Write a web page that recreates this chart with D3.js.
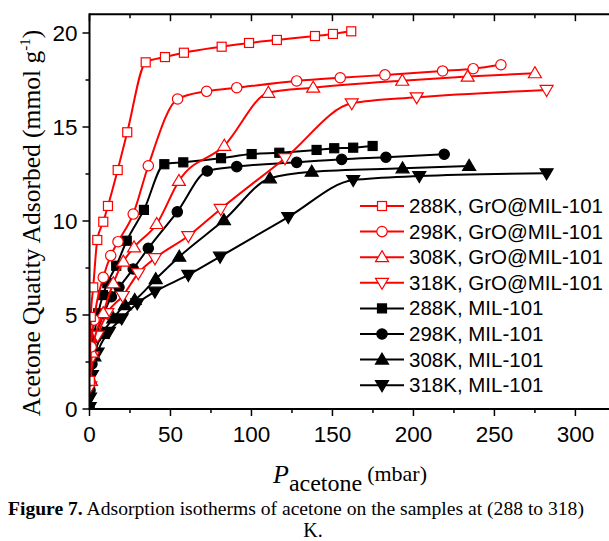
<!DOCTYPE html>
<html>
<head>
<meta charset="utf-8">
<script src="https://cdn.jsdelivr.net/npm/d3@7"></script>
<style>
  body { margin: 0; background: #fff; }
  svg { display: block; }
</style>
</head>
<body>
<svg width="609" height="541"></svg>
<script>
// pressure (mbar) / amount adsorbed (mmol/g)
const gro288 = [[0.2,1.5],[0.8,4.9],[2.3,6.47],[4.8,8.99],[8.5,9.96],[11.4,10.8],[17.4,12.71],[23.3,14.72],[34.7,18.44],[46.6,18.72],[58.3,18.95],[81.6,19.27],[98.5,19.47],[115.7,19.63],[139.2,19.84],[150.3,19.95],[161.6,20.09]];
const gro298 = [[0.3,1.5],[1.0,3.3],[2.8,4.73],[8.5,7.0],[13.1,8.16],[17.6,8.9],[27.0,10.37],[36.3,12.94],[54.4,16.49],[72.3,16.9],[90.9,17.09],[127.9,17.45],[154.8,17.62],[182.4,17.77],[218.0,17.98],[236.9,18.1],[254.0,18.31]];
const gro308 = [[0.5,1.5],[1.5,3.0],[8.5,5.1],[14.7,6.69],[20.9,7.84],[27.5,8.6],[41.5,9.84],[55.2,12.13],[83.2,14.0],[110.4,16.82],[138.1,17.09],[193.1,17.46],[233.5,17.68],[275.0,17.86]];
const gro318 = [[0.5,1.2],[2,2.8],[5,3.9],[11,5.1],[20.5,6.01],[30.1,7.22],[40.4,8.02],[61.0,9.2],[81.0,10.64],[120.7,13.34],[161.9,16.26],[202.0,16.58],[282.2,16.97]];
const mil288 = [[0.1,0.1],[0.3,1.0],[1,2.5],[3,4.0],[5.4,5.09],[8.3,6.06],[11.0,6.69],[16.5,7.62],[23.0,8.95],[33.6,10.59],[46.2,13.02],[57.9,13.12],[81.2,13.34],[100.1,13.56],[117.2,13.63],[140.2,13.78],[151.1,13.87],[162.8,13.9],[174.8,13.99]];
const mil298 = [[0.3,1.0],[1.5,2.4],[4,3.8],[9.0,5.09],[13.5,5.97],[18.2,6.47],[27.0,7.45],[36.3,8.55],[54.2,10.49],[72.7,12.66],[90.9,12.89],[127.9,13.12],[155.7,13.28],[183.0,13.39],[219.0,13.55]];
const mil308 = [[0.8,1.5],[3,2.8],[8,4.0],[14.7,4.82],[21.9,5.53],[27.9,5.8],[40.9,6.91],[55.4,8.1],[83.0,10.05],[111.4,12.27],[137.2,12.62],[193.3,12.8],[234.4,12.93]];
const mil318 = [[0.1,0.1],[0.3,0.6],[1.5,1.8],[5,3.0],[12,4.1],[19.9,4.82],[29.5,5.62],[40.4,6.24],[61.0,7.13],[80.6,8.1],[122.7,10.21],[162.8,12.18],[203.6,12.39],[282.2,12.54]];

const seriesNames = ["288K, GrO@MIL-101", "298K, GrO@MIL-101", "308K, GrO@MIL-101", "318K, GrO@MIL-101",
                     "288K, MIL-101", "298K, MIL-101", "308K, MIL-101", "318K, MIL-101"];
const seriesData = [gro288, gro298, gro308, gro318, mil288, mil298, mil308, mil318];
const seriesColors = ["#ff0000", "#ff0000", "#ff0000", "#ff0000", "#000", "#000", "#000", "#000"];
const seriesShapes = ["square", "circle", "up", "down", "square", "circle", "up", "down"];
const seriesFilled = [false, false, false, false, true, true, true, true];

const xTicks = [0, 50, 100, 150, 200, 250, 300];
const yTicks = [0, 5, 10, 15, 20];

const svg = d3.select("svg");
const x = d3.scaleLinear().domain([0, 330]).range([89.5, 624]);
const y = d3.scaleLinear().domain([0, 21]).range([409, 14.2]);

// markers
function drawMarker(sel, shape, color, filled, px, py) {
  const fill = filled ? color : "#fff";
  if (shape === "square") {
    sel.append("rect").attr("x", px - 4.5).attr("y", py - 4.5).attr("width", 9).attr("height", 9)
      .attr("fill", fill).attr("stroke", color).attr("stroke-width", 1.2);
  } else if (shape === "circle") {
    sel.append("circle").attr("cx", px).attr("cy", py).attr("r", 5.2)
      .attr("fill", fill).attr("stroke", color).attr("stroke-width", 1.2);
  } else {
    const s = shape === "up" ? 1 : -1;
    const pts = [[px, py - 6.5 * s], [px - 6.5, py + 4.5 * s], [px + 6.5, py + 4.5 * s]];
    sel.append("path").attr("d", "M" + pts.join("L") + "Z")
      .attr("fill", fill).attr("stroke", color).attr("stroke-width", 1.2);
  }
}

svg.append("clipPath").attr("id", "plotclip")
  .append("rect").attr("x", x(0)).attr("y", y(21)).attr("width", x(330) - x(0)).attr("height", y(0) - y(21));

const plot = svg.append("g").attr("clip-path", "url(#plotclip)");
const line = d3.line().x(d => x(d[0])).y(d => y(d[1])).curve(d3.curveMonotoneX);

// draw back to front: black series first, then red
const order = [7, 6, 5, 4, 3, 2, 1, 0];
order.forEach(i => {
  const g = plot.append("g");
  g.append("path").attr("d", line(seriesData[i])).attr("fill", "none")
    .attr("stroke", seriesColors[i]).attr("stroke-width", 2);
  seriesData[i].forEach(d => drawMarker(g, seriesShapes[i], seriesColors[i], seriesFilled[i], x(d[0]), y(d[1])));
});

// axes
const axisFont = "'Liberation Sans', Arial, sans-serif";
const frame = svg.append("g");
frame.append("line").attr("x1", x(0)).attr("x2", 609).attr("y1", y(0)).attr("y2", y(0)).attr("stroke", "#000").attr("stroke-width", 2);
frame.append("line").attr("x1", x(0)).attr("x2", 609).attr("y1", y(21)).attr("y2", y(21)).attr("stroke", "#000").attr("stroke-width", 2);
frame.append("line").attr("x1", x(0)).attr("x2", x(0)).attr("y1", y(0) + 1).attr("y2", y(21) - 1).attr("stroke", "#000").attr("stroke-width", 2);

const xMinor = d3.range(0, 331, 25);
xMinor.forEach(v => {
  const major = v % 50 === 0;
  frame.append("line").attr("x1", x(v)).attr("x2", x(v)).attr("y1", y(0)).attr("y2", y(0) + (major ? 7 : 4))
    .attr("stroke", "#000").attr("stroke-width", 1.5);
  frame.append("line").attr("x1", x(v)).attr("x2", x(v)).attr("y1", y(21)).attr("y2", y(21) + (major ? 7 : 4))
    .attr("stroke", "#000").attr("stroke-width", 1.5);
});
d3.range(0, 21, 2.5).forEach(v => {
  const major = v % 5 === 0;
  frame.append("line").attr("x1", x(0) - (major ? 7 : 4)).attr("x2", x(0)).attr("y1", y(v)).attr("y2", y(v))
    .attr("stroke", "#000").attr("stroke-width", 1.5);
});

frame.selectAll("text.xt").data(xTicks).enter().append("text")
  .attr("x", d => x(d)).attr("y", y(0) + 33).attr("text-anchor", "middle")
  .style("font-family", axisFont).style("font-size", "22.5px").text(d => d);
frame.selectAll("text.yt").data(yTicks).enter().append("text")
  .attr("x", x(0) - 12).attr("y", d => y(d) + 8).attr("text-anchor", "end")
  .style("font-family", axisFont).style("font-size", "22.5px").text(d => d);

// axis titles
const serif = "'Liberation Serif', 'Times New Roman', serif";
const yl = svg.append("text").attr("transform", "translate(40,223) rotate(-90)")
  .attr("text-anchor", "middle").style("font-family", serif).style("font-size", "25.5px");
yl.append("tspan").text("Acetone Quatity Adsorbed (mmol g");
yl.append("tspan").attr("dy", -10).style("font-size", "15px").text("-1");
yl.append("tspan").attr("dy", 10).text(")");

const xl = svg.append("text").attr("x", 350).attr("y", 483).attr("text-anchor", "middle")
  .style("font-family", serif).style("font-size", "24px");
xl.append("tspan").style("font-style", "italic").style("font-size", "26px").text("P");
xl.append("tspan").attr("dy", 8).text("acetone");
xl.append("tspan").attr("dy", -10).attr("dx", 5).style("font-size", "22px").text("(mbar)");

// legend
const leg = svg.append("g");
seriesNames.forEach((name, i) => {
  const cy = 206 + i * 25.6;
  leg.append("line").attr("x1", 360).attr("x2", 404).attr("y1", cy).attr("y2", cy)
    .attr("stroke", seriesColors[i]).attr("stroke-width", 2);
  drawMarker(leg, seriesShapes[i], seriesColors[i], seriesFilled[i], 382, cy);
  leg.append("text").attr("x", 409).attr("y", cy + 7).style("font-family", axisFont).style("font-size", "20.5px").text(name);
});

// caption
const cap = svg.append("text").attr("x", 8).attr("y", 515).style("font-family", serif).style("font-size", "19.6px");
cap.append("tspan").style("font-weight", "bold").text("Figure 7.");
cap.append("tspan").text(" Adsorption isotherms of acetone on the samples at (288 to 318)");
svg.append("text").attr("x", 313).attr("y", 537).attr("text-anchor", "middle")
  .style("font-family", serif).style("font-size", "20px").text("K.");
</script>
</body>
</html>
